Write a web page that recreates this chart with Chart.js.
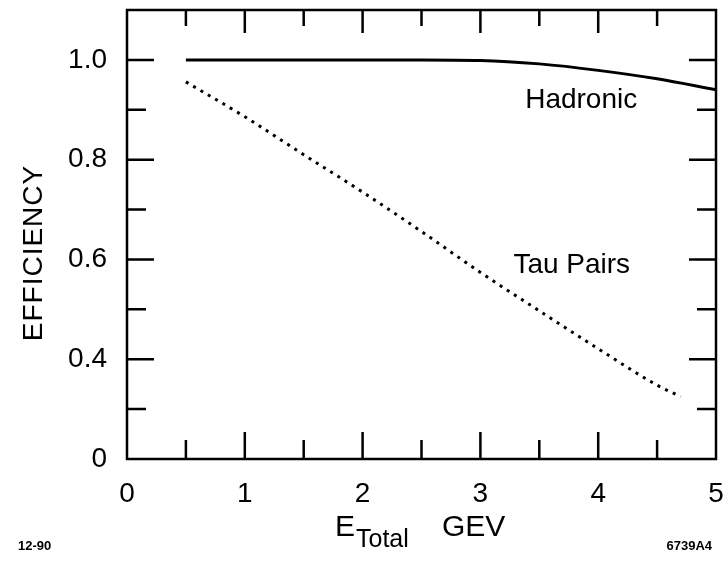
<!DOCTYPE html>
<html>
<head>
<meta charset="utf-8">
<script src="https://cdn.jsdelivr.net/npm/chart.js@4.4.1/dist/chart.umd.min.js"></script>
<style>
body{margin:0;background:#fff}
#wrap{width:728px;height:561px}
</style>
</head>
<body>
<div id="wrap"><canvas id="eff"></canvas></div>
<script>
// efficiency vs total energy
const energy = [0.5, 1.0, 1.5, 2.0, 2.5, 3.0, 3.5, 4.0, 4.5, 5.0];
const hadronic = [1.0, 1.0, 1.0, 1.0, 1.0, 0.999, 0.992, 0.979, 0.962, 0.94];
const tauEnergy = [0.5, 1.0, 1.5, 2.0, 2.5, 3.0, 3.5, 4.0, 4.5, 4.7];
const tauPairs = [0.956, 0.886, 0.81, 0.735, 0.656, 0.574, 0.497, 0.421, 0.348, 0.325];

const xTicks = [0, 1, 2, 3, 4, 5];
const xMinor = [0.5, 1.5, 2.5, 3.5, 4.5];
const yTicks = [0.2, 0.4, 0.6, 0.8, 1.0];
const yLabels = ['0', '0.4', '0.6', '0.8', '1.0'];
const yMinor = [0.3, 0.5, 0.7, 0.9];

var FONT = '"Liberation Sans", Arial, sans-serif';

function pts(xs, ys) {
    var out = [];
    for (var i = 0; i < xs.length; i++) out.push({x: xs[i], y: ys[i]});
    return out;
}

// box + inward ticks + loose texts
var decor = {
    id: 'decor',
    afterDraw: function(chart) {
        var c = chart.ctx, a = chart.chartArea;
        var sx = chart.scales.x, sy = chart.scales.y;
        c.save();
        c.strokeStyle = '#000';
        c.lineWidth = 2.5;
        c.strokeRect(a.left, a.top, a.right - a.left, a.bottom - a.top);

        c.beginPath();
        xTicks.slice(1, -1).forEach(function(v) {
            var p = sx.getPixelForValue(v);
            c.moveTo(p, a.bottom); c.lineTo(p, a.bottom - 27);
            c.moveTo(p, a.top); c.lineTo(p, a.top + 23);
        });
        xMinor.forEach(function(v) {
            var p = sx.getPixelForValue(v);
            c.moveTo(p, a.bottom); c.lineTo(p, a.bottom - 19);
            c.moveTo(p, a.top); c.lineTo(p, a.top + 16);
        });
        yTicks.slice(1).forEach(function(v) {
            var p = sy.getPixelForValue(v);
            c.moveTo(a.left, p); c.lineTo(a.left + 27, p);
            c.moveTo(a.right, p); c.lineTo(a.right - 27, p);
        });
        yMinor.forEach(function(v) {
            var p = sy.getPixelForValue(v);
            c.moveTo(a.left, p); c.lineTo(a.left + 19, p);
            c.moveTo(a.right, p); c.lineTo(a.right - 19, p);
        });
        c.stroke();

        c.fillStyle = '#000';
        c.textBaseline = 'alphabetic';
        c.textAlign = 'left';
        c.font = '28px ' + FONT;
        c.fillText('Hadronic', sx.getPixelForValue(3.38), sy.getPixelForValue(0.904));
        c.fillText('Tau Pairs', sx.getPixelForValue(3.28), sy.getPixelForValue(0.573));

        // axis titles
        c.font = '30px ' + FONT;
        c.fillText('E', 335, 536);
        c.font = '25px ' + FONT;
        c.fillText('Total', 356, 547);
        c.font = '30px ' + FONT;
        c.fillText('GEV', 442, 536);

        c.save();
        c.translate(42, 253);
        c.rotate(-Math.PI / 2);
        c.textAlign = 'center';
        c.font = '28px ' + FONT;
        c.letterSpacing = '1px';
        c.fillText('EFFICIENCY', 0, 0);
        c.restore();

        c.font = 'bold 13px ' + FONT;
        c.fillText('12-90', 18, 550);
        c.textAlign = 'right';
        c.fillText('6739A4', 712, 550);
        c.restore();
    }
};

new Chart(document.getElementById('eff'), {
    type: 'line',
    data: {
        datasets: [{
            label: 'Hadronic',
            data: pts(energy, hadronic),
            borderColor: '#000',
            borderWidth: 3,
            pointRadius: 0,
            cubicInterpolationMode: 'monotone',
            fill: false
        }, {
            label: 'Tau Pairs',
            data: pts(tauEnergy, tauPairs),
            borderColor: '#000',
            borderWidth: 3,
            borderDash: [3, 5.5],
            pointRadius: 0,
            cubicInterpolationMode: 'monotone',
            fill: false
        }]
    },
    options: {
        responsive: true,
        maintainAspectRatio: false,
        animation: false,
        layout: {padding: {left: 0, top: 10, right: 12, bottom: 0}},
        plugins: {legend: {display: false}, tooltip: {enabled: false}},
        scales: {
            x: {
                type: 'linear',
                min: 0, max: 5,
                grid: {display: false, drawTicks: false},
                border: {display: false},
                afterBuildTicks: function(s) { s.ticks = xTicks.map(function(v) { return {value: v}; }); },
                afterFit: function(s) {
                    s.height = 102;
                    s.paddingLeft = 0; s.paddingRight = 0;
                },
                ticks: {
                    padding: 18,
                    color: '#000',
                    font: {family: FONT, size: 28},
                    maxRotation: 0
                }
            },
            y: {
                type: 'linear',
                min: 0.2, max: 1.1,
                grid: {display: false, drawTicks: false},
                border: {display: false},
                afterBuildTicks: function(s) { s.ticks = yTicks.map(function(v) { return {value: v}; }); },
                afterFit: function(s) {
                    s.width = 127;
                    s.paddingTop = 0; s.paddingBottom = 0;
                },
                ticks: {
                    padding: 20,
                    color: '#000',
                    font: {family: FONT, size: 28},
                    callback: function(v, i) { return yLabels[i]; }
                }
            }
        }
    },
    plugins: [decor]
});
</script>
</body>
</html>
